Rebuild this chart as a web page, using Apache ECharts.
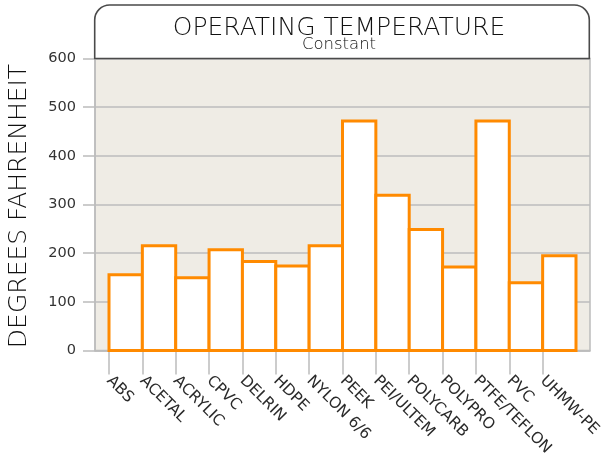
<!DOCTYPE html>
<html>
<head>
<meta charset="utf-8">
<script src="https://cdn.jsdelivr.net/npm/echarts@6/dist/echarts.min.js"></script>
<style>html,body{margin:0;padding:0;background:#fff}#c{width:616px;height:461px}</style>
</head>
<body>
<div id="c"></div>
<script>
const categories = ['ABS','ACETAL','ACRYLIC','CPVC','DELRIN','HDPE','NYLON 6/6','PEEK','PEI/ULTEM','POLYCARB','POLYPRO','PTFE/TEFLON','PVC','UHMW-PE'];
const temperatures = [160, 219, 154, 211, 187, 178, 219, 473, 322, 252, 176, 473, 144, 199];
const yTicks = [0, 100, 200, 300, 400, 500, 600];
const titleText = 'OPERATING TEMPERATURE';
const subtitleText = 'Constant';
const yName = 'DEGREES FAHRENHEIT';

const FONT = 'DejaVu Sans';
const BORDER = 3;
const BAR_LEFT = 109, BAR_RIGHT = 40;
const chart = echarts.init(document.getElementById('c'), null, {renderer: 'canvas'});
const labelCats = categories.concat(['']);
const yMin = yTicks[0], yMax = yTicks[yTicks.length - 1], yStep = yTicks[1] - yTicks[0];
const bandW = (616 - BAR_LEFT - BAR_RIGHT) / categories.length;

chart.setOption({
  animation: false,
  backgroundColor: '#ffffff',
  grid: [
    {left: 95, right: 26, top: 58.5, bottom: 110.5, show: true, backgroundColor: '#efece5', borderColor: '#bcbcbc', borderWidth: 1.5, containLabel: false},
    {left: BAR_LEFT, right: BAR_RIGHT, top: 58.5 - BORDER / 2, bottom: 110.5 - BORDER / 2, containLabel: false}
  ],
  xAxis: [
    {gridIndex: 0, type: 'value', min: 0, max: 1, show: true,
     axisLine: {show: true, lineStyle: {color: '#bcbcbc', width: 1.5}},
     axisTick: {show: false}, axisLabel: {show: false}, splitLine: {show: false}},
    {gridIndex: 1, type: 'category', data: categories, boundaryGap: true, show: false},
    {gridIndex: 1, type: 'category', data: labelCats, boundaryGap: false, position: 'bottom',
     axisLine: {show: false},
     axisTick: {show: true, length: 22.5, interval: function (i) { return i < categories.length; }, lineStyle: {color: '#bcbcbc', width: 1.5}},
     axisLabel: {show: true, interval: 0, rotate: -45, margin: 26.5, color: '#2a2a2a', fontFamily: FONT, fontSize: 15.5},
     splitLine: {show: false}}
  ],
  yAxis: [
    {gridIndex: 0, type: 'value', min: yMin, max: yMax, interval: yStep,
     axisLine: {show: true, lineStyle: {color: '#bcbcbc', width: 1.5}},
     axisTick: {show: true, length: 12, lineStyle: {color: '#bcbcbc', width: 1.5}},
     axisLabel: {margin: 19, color: '#333', fontFamily: FONT, fontSize: 14.5},
     splitLine: {show: true, lineStyle: {color: '#bcbcbc', width: 1.5}}},
    {gridIndex: 1, type: 'value', min: yMin, max: yMax, interval: yStep, show: false, splitLine: {show: false}}
  ],
  series: [{
    type: 'bar', xAxisIndex: 1, yAxisIndex: 1,
    data: temperatures,
    barWidth: bandW + BORDER,
    barCategoryGap: '0%',
    itemStyle: {color: '#ffffff', borderColor: '#ff8a00', borderWidth: BORDER},
    emphasis: {disabled: true}
  }],
  graphic: [
    {type: 'rect', z: 100, shape: {x: 94.7, y: 5, width: 494.6, height: 53.5, r: [15, 15, 0, 0]},
     style: {fill: '#ffffff', stroke: '#4a4a4a', lineWidth: 1.6}},
    {type: 'text', z: 101, x: 339, y: 28, style: {text: titleText, font: '200 25px "' + FONT + '"', fill: '#111', align: 'center', verticalAlign: 'middle'}},
    {type: 'text', z: 101, x: 339, y: 45, style: {text: subtitleText, font: '200 16.5px "' + FONT + '"', fill: '#111', align: 'center', verticalAlign: 'middle'}},
    {type: 'text', z: 101, x: 19, y: 206, rotation: Math.PI / 2, style: {text: yName, font: '200 25px "' + FONT + '"', fill: '#111', align: 'center', verticalAlign: 'middle'}}
  ]
});
</script>
</body>
</html>
